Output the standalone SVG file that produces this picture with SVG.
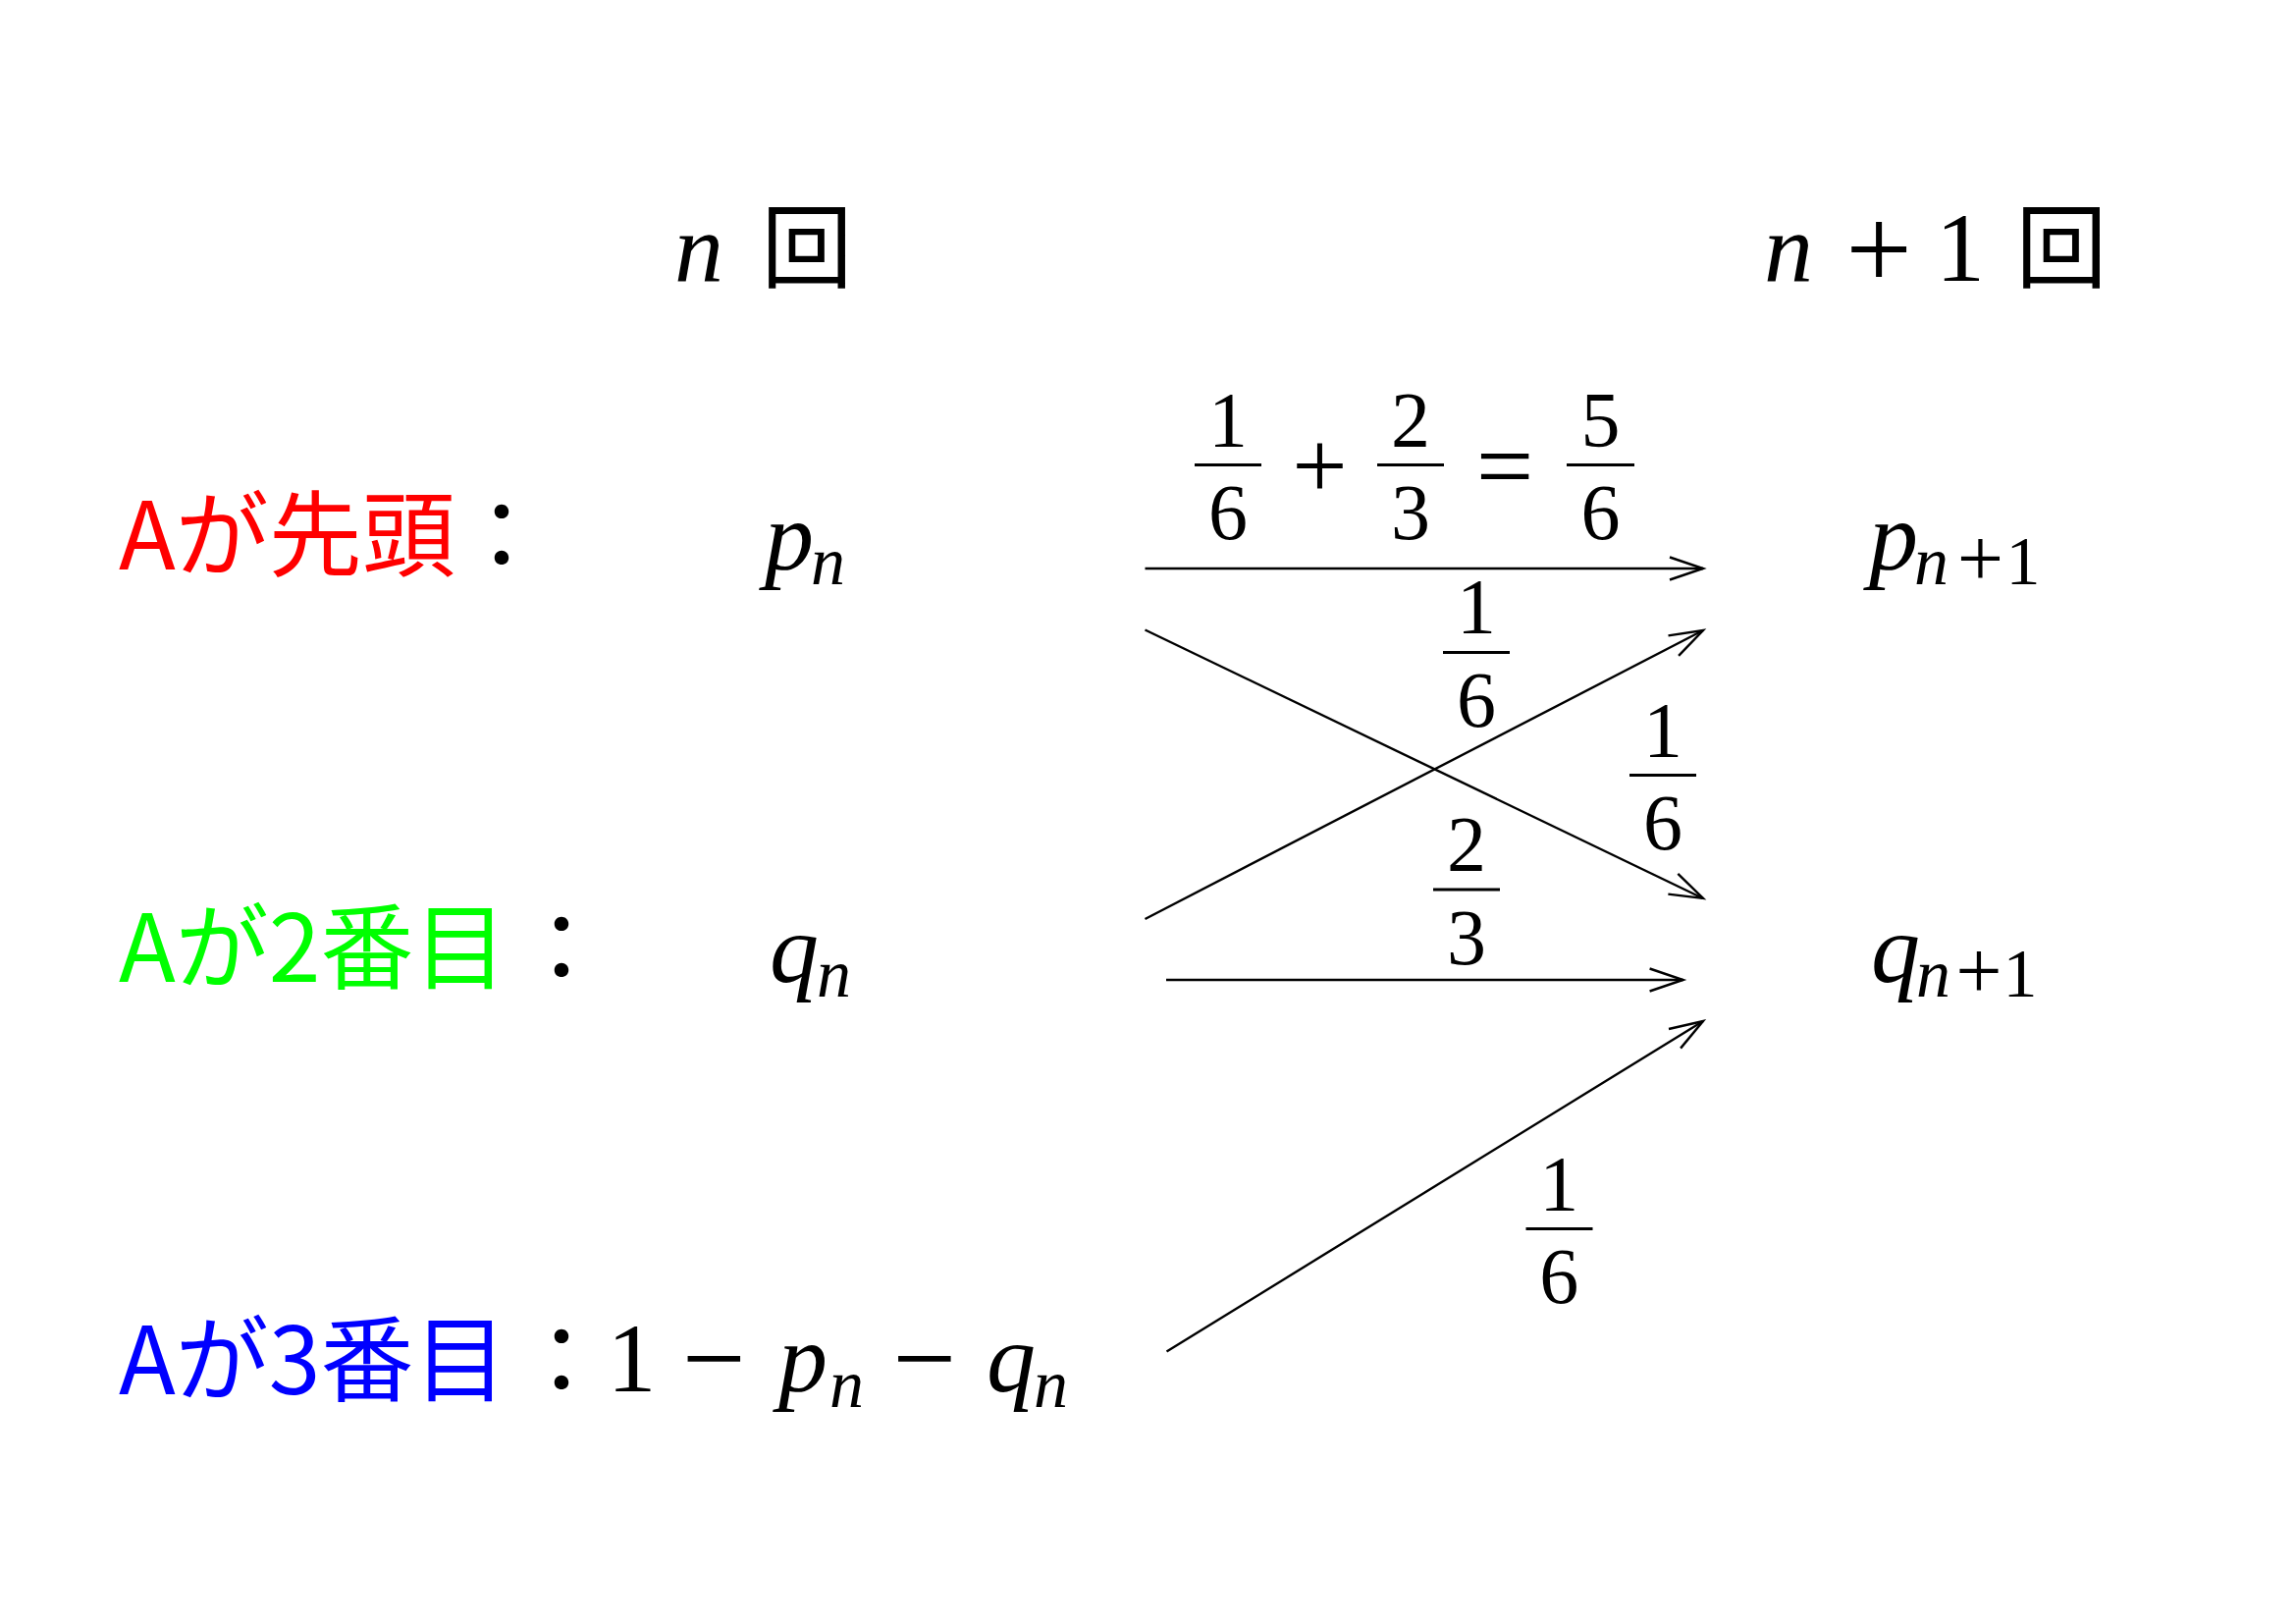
<svg xmlns="http://www.w3.org/2000/svg" width="2339" height="1654" viewBox="0 0 2339 1654">
<style>
.m{font-family:"Liberation Serif","Times New Roman",serif;font-size:100px;fill:#000}
.i{font-style:italic}
.s{font-size:70px}
.f{font-family:"Liberation Serif","Times New Roman",serif;font-size:80px;fill:#000;text-anchor:middle}
.j{font-family:"Noto Sans CJK JP","Noto Sans CJK SC",sans-serif;font-size:95px}
.k{font-family:"Noto Sans CJK JP","Noto Sans CJK SC",sans-serif;font-size:93px;fill:#000;text-anchor:middle}
.c{font-family:"Noto Sans CJK JP","Noto Sans CJK SC",sans-serif;font-size:95px;fill:#000;text-anchor:middle}
.mid{text-anchor:middle}
.bar{fill:#000}
.edge{stroke:#000;stroke-width:2.4;fill:none;marker-end:url(#arr)}
</style>
<defs>
<marker id="arr" markerUnits="userSpaceOnUse" markerWidth="60" markerHeight="40" viewBox="-40 -20 60 40" refX="0" refY="0" orient="auto">
<path d="M-34,-11.5 L0,0 L-34,11.5" fill="none" stroke="#000" stroke-width="2.4"/>
</marker>
</defs>
<rect width="2339" height="1654" fill="#fff"/>

<g id="header-n">
<text class="m i" x="687" y="286">n</text>
<text class="k" x="822" y="286">回</text>
</g>

<g id="header-n1">
<text class="m i" x="1797" y="286">n</text>
<text class="m mid" x="1914" y="294" style="font-size:120px">+</text>
<text class="m mid" x="1997" y="286">1</text>
<text class="k" x="2100" y="286">回</text>
</g>

<g id="row-first">
<text class="j" x="121" y="580" fill="#ff0000">Aが先頭</text>
<text class="c" x="511" y="580">：</text>
<text class="m i" x="779" y="580">p</text>
<text class="m i s" x="826" y="595">n</text>
</g>

<g id="row-second">
<text class="j" x="121" y="1000" fill="#00ff00">Aが2番目</text>
<text class="c" x="572" y="1000">：</text>
<text class="m i" x="784" y="1000">q</text>
<text class="m i s" x="832" y="1015">n</text>
</g>

<g id="row-third">
<text class="j" x="121" y="1420" fill="#0000ff">Aが3番目</text>
<text class="c" x="572" y="1420">：</text>
<text class="m mid" x="643.5" y="1417">1</text>
<text class="m mid" x="727.5" y="1422" style="font-size:115px">−</text>
<text class="m i" x="793" y="1417">p</text>
<text class="m i s" x="845" y="1433">n</text>
<text class="m mid" x="942" y="1422" style="font-size:115px">−</text>
<text class="m i" x="1005" y="1417">q</text>
<text class="m i s" x="1053" y="1433">n</text>
</g>

<g id="next-first">
<text class="m i" x="1904" y="580">p</text>
<text class="m i s" x="1950" y="595">n</text>
<text class="m s mid" x="2017.5" y="597" style="font-size:84px">+</text>
<text class="m s mid" x="2061" y="595">1</text>
</g>

<g id="next-second">
<text class="m i" x="1906" y="1000">q</text>
<text class="m i s" x="1952" y="1015">n</text>
<text class="m s mid" x="2016" y="1017" style="font-size:84px">+</text>
<text class="m s mid" x="2058" y="1015">1</text>
</g>

<g id="connectors">
<line id="e-pp" class="edge" x1="1166.5" y1="579" x2="1735" y2="579"/>
<line id="e-pq" class="edge" x1="1166.5" y1="641.5" x2="1735" y2="915"/>
<line id="e-qp" class="edge" x1="1166.5" y1="936" x2="1735" y2="642"/>
<line id="e-qq" class="edge" x1="1188" y1="998" x2="1714.6" y2="998"/>
<line id="e-rq" class="edge" x1="1188.5" y1="1376.5" x2="1735" y2="1040"/>
</g>

<g id="edge-labels">
<g id="lbl-pp">
<text class="f" x="1251" y="455">1</text>
<rect class="bar" x="1217" y="472" width="68" height="3"/>
<text class="f" x="1251" y="549">6</text>
<text class="m mid" x="1344.5" y="508">+</text>
<text class="f" x="1437" y="455">2</text>
<rect class="bar" x="1403" y="472" width="68" height="3"/>
<text class="f" x="1437" y="549">3</text>
<text class="m mid" x="1533" y="510" style="font-size:104px">=</text>
<text class="f" x="1630.5" y="455">5</text>
<rect class="bar" x="1596" y="472" width="69" height="3"/>
<text class="f" x="1630.5" y="549">6</text>
</g>
<g id="lbl-qp">
<text class="f" x="1504" y="645">1</text>
<rect class="bar" x="1470" y="663" width="68" height="3"/>
<text class="f" x="1504" y="740">6</text>
</g>
<g id="lbl-pq">
<text class="f" x="1694" y="771">1</text>
<rect class="bar" x="1660" y="788" width="68" height="3"/>
<text class="f" x="1694" y="865">6</text>
</g>
<g id="lbl-qq">
<text class="f" x="1494" y="887">2</text>
<rect class="bar" x="1460" y="904.5" width="68" height="3"/>
<text class="f" x="1494" y="981.5">3</text>
</g>
<g id="lbl-rq">
<text class="f" x="1588.3" y="1233">1</text>
<rect class="bar" x="1554.5" y="1250" width="68" height="3"/>
<text class="f" x="1588.3" y="1327">6</text>
</g>
</g>
</svg>
